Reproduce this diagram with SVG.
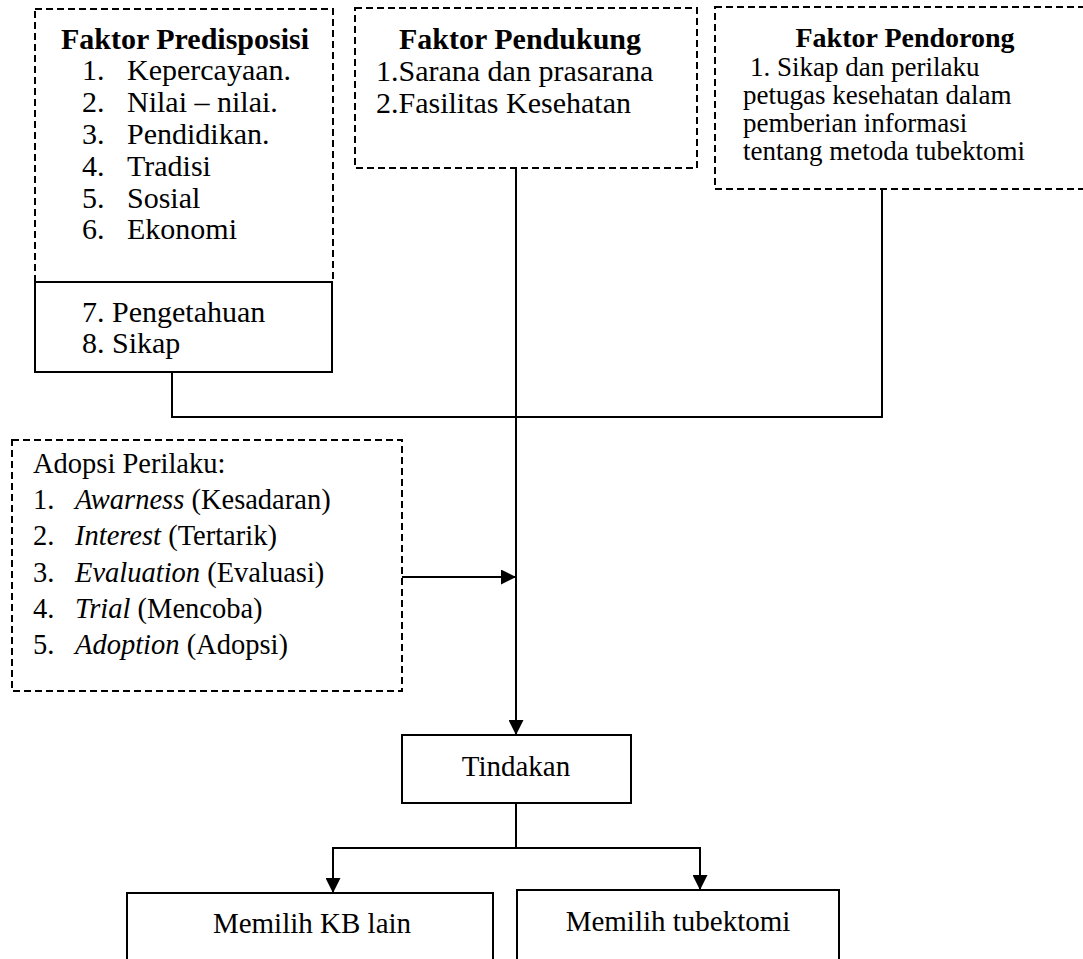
<svg xmlns="http://www.w3.org/2000/svg" width="1083" height="959" viewBox="0 0 1083 959">
<style>
text{font-family:"Liberation Serif","Times New Roman",serif;fill:#000}
.b{font-weight:bold}
.i{font-style:italic}
.dash{fill:none;stroke:#000;stroke-width:2;stroke-dasharray:7 4}
.box{fill:none;stroke:#000;stroke-width:2}
.ln{fill:none;stroke:#000;stroke-width:2}
</style>
<defs>
<marker id="ah" viewBox="0 0 10 10" refX="10" refY="5" markerWidth="15" markerHeight="15" markerUnits="userSpaceOnUse" orient="auto">
<path d="M0,0 L10,5 L0,10 Z" fill="#000"/>
</marker>
</defs>
<rect width="1083" height="959" fill="#fff"/>
<g id="predisposisi">
<rect class="dash" x="35" y="9" width="298" height="273"/>
<text class="b" x="185" y="49" font-size="30" text-anchor="middle">Faktor Predisposisi</text>
<g font-size="30">
<text x="82" y="80">1.</text><text x="127" y="80">Kepercayaan.</text>
<text x="82" y="112">2.</text><text x="127" y="112">Nilai – nilai.</text>
<text x="82" y="144">3.</text><text x="127" y="144">Pendidikan.</text>
<text x="82" y="176">4.</text><text x="127" y="176">Tradisi</text>
<text x="82" y="208">5.</text><text x="127" y="208">Sosial</text>
<text x="82" y="239">6.</text><text x="127" y="239">Ekonomi</text>
</g>
</g>
<g id="pengetahuan-sikap">
<rect class="box" x="35" y="282" width="297" height="90"/>
<text x="82" y="322" font-size="30">7. Pengetahuan</text>
<text x="82" y="353" font-size="30">8. Sikap</text>
</g>
<g id="pendukung">
<rect class="dash" x="355" y="8" width="342" height="160"/>
<text class="b" x="520" y="49" font-size="30" text-anchor="middle">Faktor Pendukung</text>
<text x="376" y="81" font-size="30">1.Sarana dan prasarana</text>
<text x="376" y="113" font-size="30">2.Fasilitas Kesehatan</text>
</g>
<g id="pendorong">
<rect class="dash" x="715" y="7" width="380" height="182"/>
<text class="b" x="905" y="47" font-size="28" text-anchor="middle">Faktor Pendorong</text>
<g font-size="27">
<text x="750" y="76">1. Sikap dan perilaku</text>
<text x="743" y="104">petugas kesehatan dalam</text>
<text x="743" y="132">pemberian informasi</text>
<text x="743" y="160">tentang metoda tubektomi</text>
</g>
</g>
<g id="adopsi">
<rect class="dash" x="12" y="440" width="390" height="251"/>
<g font-size="28.5">
<text x="33" y="473">Adopsi Perilaku:</text>
<text x="33" y="509">1.</text><text x="75" y="509"><tspan class="i">Awarness</tspan> (Kesadaran)</text>
<text x="33" y="545">2.</text><text x="75" y="545"><tspan class="i">Interest</tspan> (Tertarik)</text>
<text x="33" y="582">3.</text><text x="75" y="582"><tspan class="i">Evaluation</tspan> (Evaluasi)</text>
<text x="33" y="618">4.</text><text x="75" y="618"><tspan class="i">Trial</tspan> (Mencoba)</text>
<text x="33" y="654">5.</text><text x="75" y="654"><tspan class="i">Adoption</tspan> (Adopsi)</text>
</g>
</g>
<g id="tindakan">
<rect class="box" x="402" y="735" width="229" height="68"/>
<text x="516" y="776" font-size="29" text-anchor="middle">Tindakan</text>
</g>
<g id="kb-lain">
<rect class="box" x="127" y="893" width="366" height="80"/>
<text x="312" y="933" font-size="29" text-anchor="middle">Memilih KB lain</text>
</g>
<g id="tubektomi">
<rect class="box" x="517" y="890" width="322" height="80"/>
<text x="678" y="931" font-size="29" text-anchor="middle">Memilih tubektomi</text>
</g>
<g id="connectors">
<path class="ln" d="M172,372 V417 H882 V189"/>
<path class="ln" d="M516,168 V735" marker-end="url(#ah)"/>
<path class="ln" d="M402,577 H516" marker-end="url(#ah)"/>
<path class="ln" d="M516,803 V848 H333 V893" marker-end="url(#ah)"/>
<path class="ln" d="M516,848 H700 V890" marker-end="url(#ah)"/>
</g>
</svg>
